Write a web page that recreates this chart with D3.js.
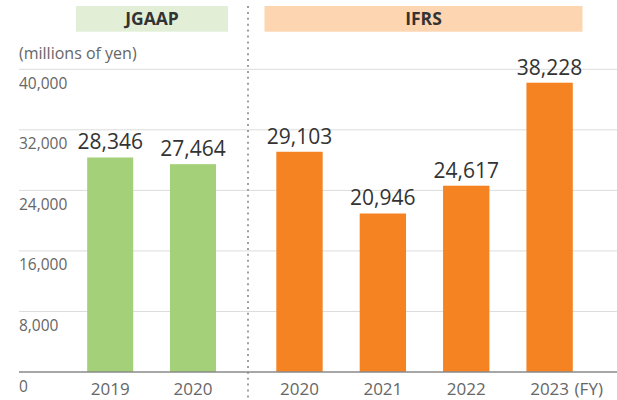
<!DOCTYPE html>
<html>
<head>
<meta charset="utf-8">
<script src="https://cdn.jsdelivr.net/npm/d3@7"></script>
<style>
  html, body { margin: 0; padding: 0; background: #fff; }
  svg { display: block; font-family: "Open Sans", "Noto Sans", sans-serif; }
</style>
</head>
<body>
<svg id="chart" width="617" height="400"></svg>
<script>
// Operating results by accounting standard
const jgaapYears = ["2019", "2020"];
const jgaapValues = [28346, 27464];
const ifrsYears = ["2020", "2021", "2022", "2023"];
const ifrsValues = [29103, 20946, 24617, 38228];
const yTicks = [0, 8000, 16000, 24000, 32000, 40000];
const unitLabel = "(millions of yen)";
const fyLabel = "(FY)";

const svg = d3.select("#chart");
const W = 617;

const y = d3.scaleLinear().domain([0, 40000]).range([372, 69.3]);

const pad = 0.444;
const xJ = d3.scaleBand().domain(jgaapYears).range([68.8, 234.4])
  .paddingInner(pad).paddingOuter(pad / 2);
const xI = d3.scaleBand().domain(ifrsYears).range([257.8, 591.3])
  .paddingInner(pad).paddingOuter(pad / 2);

const fmt = d3.format(",");

// standard header boxes
const headers = [
  { label: "JGAAP", x0: 76, x1: 228, fill: "#e2efd6" },
  { label: "IFRS", x0: 264.5, x1: 582.5, fill: "#fdd5b0" }
];
const hg = svg.append("g");
hg.selectAll("rect").data(headers).join("rect")
  .attr("x", d => d.x0).attr("y", 6)
  .attr("width", d => d.x1 - d.x0).attr("height", 25.7)
  .attr("fill", d => d.fill);
hg.selectAll("text").data(headers).join("text")
  .attr("x", d => (d.x0 + d.x1) / 2).attr("y", 25.3)
  .attr("text-anchor", "middle")
  .attr("font-size", 17.5).attr("font-weight", 700)
  .attr("fill", "#333")
  .text(d => d.label);

// unit label
svg.append("text")
  .attr("x", 19).attr("y", 58.5)
  .attr("font-size", 16).attr("fill", "#666")
  .text(unitLabel);

// gridlines and tick labels
const grid = svg.append("g");
grid.selectAll("line").data(yTicks.filter(d => d > 0)).join("line")
  .attr("x1", 19).attr("x2", W)
  .attr("y1", d => y(d)).attr("y2", d => y(d))
  .attr("stroke", "#dcdcdc").attr("stroke-width", 1);
grid.selectAll("text").data(yTicks).join("text")
  .attr("x", 19).attr("y", d => y(d) + 19.5)
  .attr("font-size", 15.5).attr("fill", "#666")
  .text(d => fmt(d));

// divider between standards
svg.append("line")
  .attr("x1", 248).attr("x2", 248)
  .attr("y1", 6).attr("y2", 400)
  .attr("stroke", "#a0a0a0").attr("stroke-width", 2)
  .attr("stroke-dasharray", "2 3.9");

function drawGroup(years, values, x, color) {
  const data = years.map((yr, i) => ({ yr, v: values[i] }));
  const g = svg.append("g");
  g.selectAll("rect").data(data).join("rect")
    .attr("x", d => x(d.yr)).attr("width", x.bandwidth())
    .attr("y", d => y(d.v)).attr("height", d => y(0) - y(d.v))
    .attr("fill", color);
  g.selectAll("text.val").data(data).join("text")
    .attr("class", "val")
    .attr("x", d => x(d.yr) + x.bandwidth() / 2)
    .attr("y", d => y(d.v) - 8)
    .attr("text-anchor", "middle")
    .attr("font-size", 21).attr("fill", "#333")
    .text(d => fmt(d.v));
  const axis = d3.axisBottom(x).tickSize(0).tickPadding(0);
  const ag = svg.append("g").attr("transform", `translate(0,${y(0)})`).call(axis);
  ag.select(".domain").remove();
  ag.selectAll("text")
    .attr("dy", null).attr("y", 22.5)
    .attr("font-size", 17).attr("fill", "#666")
    .attr("font-family", "\"Open Sans\", sans-serif");
  return ag;
}

drawGroup(jgaapYears, jgaapValues, xJ, "#a3d078");
drawGroup(ifrsYears, ifrsValues, xI, "#f58322");

// baseline
svg.append("line")
  .attr("x1", 19).attr("x2", W)
  .attr("y1", y(0)).attr("y2", y(0))
  .attr("stroke", "#8a8a8a").attr("stroke-width", 1.5);

// fiscal-year suffix after the last category
const last = ifrsYears[ifrsYears.length - 1];
svg.append("text")
  .attr("x", xI(last) + xI.bandwidth() / 2 + 25)
  .attr("y", y(0) + 22.5)
  .attr("font-size", 17).attr("fill", "#666")
  .text(fyLabel);
</script>
</body>
</html>
